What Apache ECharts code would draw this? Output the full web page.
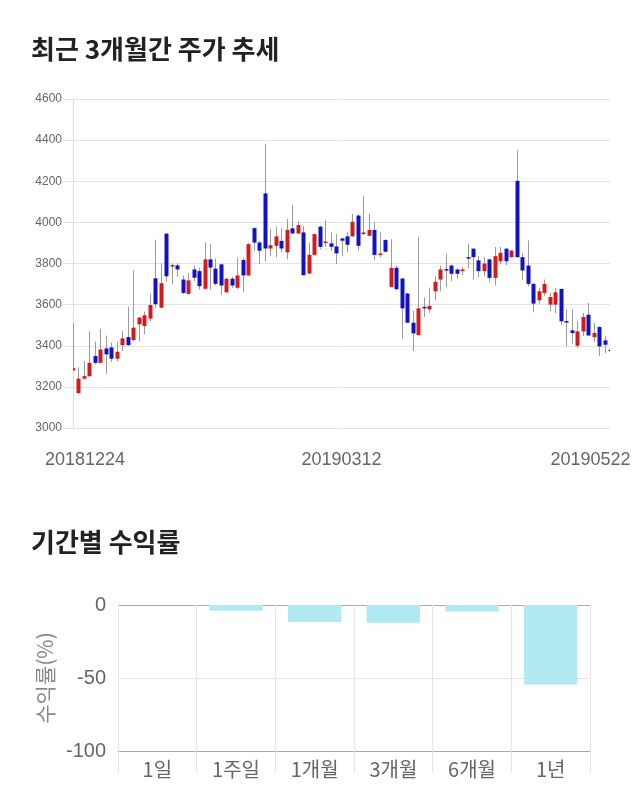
<!DOCTYPE html>
<html><head><meta charset="utf-8">
<script src="https://cdn.jsdelivr.net/npm/echarts@6/dist/echarts.min.js"></script>
<style>html,body{margin:0;padding:0;background:#fff}#c{width:640px;height:810px}</style>
</head><body><div id="c"></div>
<script>
// ---- price candles (Korean convention: red = up, blue = down) ----
const opens  = [3280,3170,3240,3252,3350,3317,3387,3392,3337,3403,3442,3428,3504,3496,3532,3728,3585,3945,3786,3791,3722,3652,3771,3763,3677,3820,3775,3796,3660,3726,3682,3817,3742,3972,3902,4141,3873,3886,3910,3854,3971,3946,3951,3751,3842,3979,3901,3898,3883,3922,3932,3932,4033,3943,3935,3963,3842,3914,3686,3779,3727,3654,3512,3452,3589,3577,3665,3722,3773,3790,3771,3763,3831,3872,3815,3763,3820,3730,3811,3872,3831,4202,3831,3790,3701,3621,3657,3600,3600,3676,3520,3475,3400,3470,3551,3442,3491,3426,3380];
const closes = [3290,3240,3252,3317,3317,3382,3358,3337,3371,3436,3403,3488,3537,3548,3598,3602,3704,3738,3792,3771,3657,3718,3731,3690,3820,3780,3701,3693,3726,3693,3742,3742,3894,3902,3862,3873,3889,3932,3873,3963,3946,3987,3743,3842,3943,3881,3907,3881,3849,3911,3891,4003,3886,3951,3963,3842,3849,3857,3779,3675,3582,3512,3460,3582,3582,3594,3711,3771,3769,3750,3750,3771,3829,3831,3763,3800,3730,3836,3852,3811,3863,3831,3766,3701,3605,3665,3701,3637,3660,3519,3517,3462,3470,3540,3450,3462,3397,3405,3374];
const lows   = [3278,3165,3235,3248,3310,3313,3263,3322,3325,3374,3400,3423,3420,3455,3520,3585,3582,3712,3698,3736,3652,3650,3714,3673,3673,3673,3693,3649,3656,3682,3677,3660,3740,3862,3797,3810,3837,3829,3854,3821,3943,3943,3743,3748,3838,3870,3881,3862,3797,3837,3854,3930,3862,3940,3932,3816,3829,3855,3684,3670,3434,3510,3374,3450,3540,3561,3620,3665,3685,3714,3727,3743,3776,3722,3733,3740,3709,3693,3795,3792,3828,3828,3722,3689,3563,3605,3644,3567,3559,3502,3397,3410,3389,3446,3446,3421,3351,3364,3370];
const highs  = [3510,3295,3325,3470,3420,3483,3450,3415,3420,3472,3590,3767,3540,3566,3654,3915,3800,3948,3801,3801,3742,3752,3791,3780,3902,3894,3824,3800,3730,3735,3829,3830,3900,3975,3910,4382,3967,3979,3971,4016,4085,4005,3984,3902,3946,3985,4011,3951,3943,3925,3954,4041,4040,4127,4044,4000,3951,3919,3919,3792,3730,3656,3569,3927,3634,3683,3738,3790,3847,3795,3775,3782,3896,3875,3836,3831,3825,3880,3880,3875,3866,4351,3852,3912,3705,3681,3722,3657,3681,3680,3576,3576,3519,3559,3608,3511,3495,3446,3382];
const priceTicks = {min: 3000, max: 4600, interval: 200};
const dateLabelIdx = [0, 49, 98];
const dateLabels = ['20181224', '20190312', '20190522'];

// ---- period returns ----
const periods = ['1일', '1주일', '1개월', '3개월', '6개월', '1년'];
const returns = [0, -3.9, -11.6, -12.1, -4.4, -54.5];
const returnTicks = {min: -100, max: 0, interval: 50};

const RED = '#d01c1c', BLUE = '#1212c4';
const cats = opens.map((_, i) => String(i));
const candleData = opens.map((o, i) => [i, o, closes[i], lows[i], highs[i]]);
const FONT = "'Liberation Sans', 'Noto Sans CJK KR', sans-serif";
const KFONT = "'Noto Sans CJK KR', sans-serif";
const DFS = 18;

const chart = echarts.init(document.getElementById('c'));
chart.setOption({
  animation: false,
  backgroundColor: '#fff',
  title: [
    {text: '최근 3개월간 주가 추세', left: 26, top: 31, textStyle: {fontFamily: KFONT, fontSize: 26, fontWeight: 'bold', color: '#222'}},
    {text: '기간별 수익률', left: 26, top: 524, textStyle: {fontFamily: KFONT, fontSize: 26, fontWeight: 'bold', color: '#222'}}
  ],
  grid: [
    {left: 73, right: 30, top: 99, height: 329},
    {left: 118, right: 50, top: 605, height: 146}
  ],
  xAxis: [
    {
      type: 'category', gridIndex: 0, data: cats, boundaryGap: false,
      axisLine: {show: false}, axisTick: {show: false}, splitLine: {show: false},
      axisLabel: {
        interval: (i) => dateLabelIdx.includes(i),
        margin: 23, color: '#666', fontFamily: FONT, fontSize: DFS,
        formatter: (v, i) => {
          const k = dateLabelIdx.indexOf(i);
          if (k < 0) return '';
          if (k === 0) return '{f|' + dateLabels[k] + '}';
          if (k === dateLabels.length - 1) return '{l|' + dateLabels[k] + '}';
          return dateLabels[k];
        },
        rich: {
          f: {padding: [0, 0, 0, 24], color: '#666', fontFamily: FONT, fontSize: DFS},
          l: {padding: [0, 39, 0, 0], color: '#666', fontFamily: FONT, fontSize: DFS}
        }
      }
    },
    {
      type: 'category', gridIndex: 1, data: periods,
      axisLine: {show: true, onZero: false, lineStyle: {color: '#aaa'}},
      axisTick: {show: true, length: 22, lineStyle: {color: '#e6e6e6'}},
      splitLine: {show: true, lineStyle: {color: '#e6e6e6'}},
      axisLabel: {color: '#666', fontFamily: KFONT, fontSize: 20, margin: 8}
    }
  ],
  yAxis: [
    {
      type: 'value', gridIndex: 0, min: priceTicks.min, max: priceTicks.max, interval: priceTicks.interval,
      axisLine: {show: true, lineStyle: {color: '#dedede'}},
      axisTick: {show: true, length: 10, lineStyle: {color: '#e3e3e3'}},
      splitLine: {lineStyle: {color: '#e3e3e3'}},
      axisLabel: {color: '#666', fontFamily: FONT, fontSize: 12, margin: 11, formatter: (v) => String(v)}
    },
    {
      type: 'value', gridIndex: 1, min: returnTicks.min, max: returnTicks.max, interval: returnTicks.interval,
      name: '수익률(%)', nameLocation: 'middle', nameGap: 62, nameRotate: 90,
      nameTextStyle: {color: '#888', fontFamily: KFONT, fontSize: 21},
      axisLine: {show: true, lineStyle: {color: '#e6e6e6'}},
      axisTick: {show: false},
      splitLine: {lineStyle: {color: ['#aaa', '#e6e6e6', '#aaa']}},
      axisLabel: {color: '#666', fontFamily: FONT, fontSize: 20, margin: 12, formatter: (v) => String(v)}
    }
  ],
  series: [
    {
      type: 'custom', xAxisIndex: 0, yAxisIndex: 0, data: candleData, clip: true,
      encode: {x: 0, y: [1, 2, 3, 4]},
      renderItem: (params, api) => {
        const i = api.value(0), o = api.value(1), c = api.value(2), l = api.value(3), h = api.value(4);
        const pO = api.coord([i, o]), pC = api.coord([i, c]), pL = api.coord([i, l]), pH = api.coord([i, h]);
        const xc = Math.round(pO[0]);
        const top = Math.min(pO[1], pC[1]);
        const ht = Math.max(Math.abs(pO[1] - pC[1]), 1.5);
        return {
          type: 'group',
          children: [
            {type: 'line', shape: {x1: xc + 0.5, y1: pH[1], x2: xc + 0.5, y2: pL[1]}, style: {stroke: '#9a9a9a', lineWidth: 1}},
            {type: 'rect', shape: {x: xc - 1.5, y: top, width: 4, height: ht}, style: {fill: c >= o ? RED : BLUE}}
          ]
        };
      }
    },
    {
      type: 'bar', xAxisIndex: 1, yAxisIndex: 1, data: returns, barWidth: '68%',
      itemStyle: {color: '#b2eaf3'}
    }
  ]
});
</script></body></html>
